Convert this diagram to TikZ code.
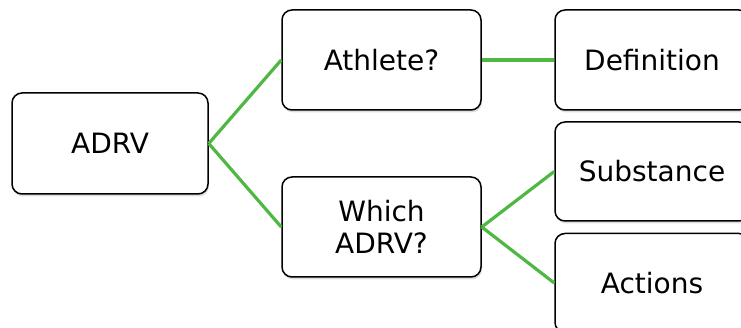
\documentclass[tikz,border=0pt]{standalone}
\usepackage{fontspec}
\setmainfont{DejaVu Sans}
\usetikzlibrary{shadows}
\definecolor{linkgreen}{RGB}{78,184,66}

\begin{document}
\begin{tikzpicture}[x=1pt,y=-1pt]
    \tikzstyle{every node}=[draw=black,line width=1.5pt,rounded corners=10pt,fill=white,
        align=center,font=\fontsize{28}{32}\selectfont,
        drop shadow={opacity=0.25,shadow xshift=1pt,shadow yshift=-2.5pt}]
    \tikzstyle{link}=[linkgreen,line width=3.2pt]
    \useasboundingbox (0,0) rectangle (741,328);
    \clip (0,0) rectangle (741,328);
    \draw (110,143.5) node[minimum width=196pt,minimum height=101pt] (adrv) {ADRV};
    \draw (381.5,60) node[minimum width=199pt,minimum height=100pt] (athlete) {Athlete?};
    \draw (381.5,227) node[minimum width=199pt,minimum height=100pt] (which) {Which\\ADRV?};
    \draw (652,60) node[minimum width=194pt,minimum height=100pt] (defn) {Definition};
    \draw (652,171.5) node[minimum width=194pt,minimum height=99pt] (subst) {Substance};
    \draw (652,283) node[minimum width=194pt,minimum height=99pt] (actions) {Actions};
    \draw[link] (adrv.east) -- (athlete.west);
    \draw[link] (adrv.east) -- (which.west);
    \draw[link] (athlete.east) -- (defn.west);
    \draw[link] (which.east) -- (subst.west);
    \draw[link] (which.east) -- (actions.west);
\end{tikzpicture}
\end{document}
